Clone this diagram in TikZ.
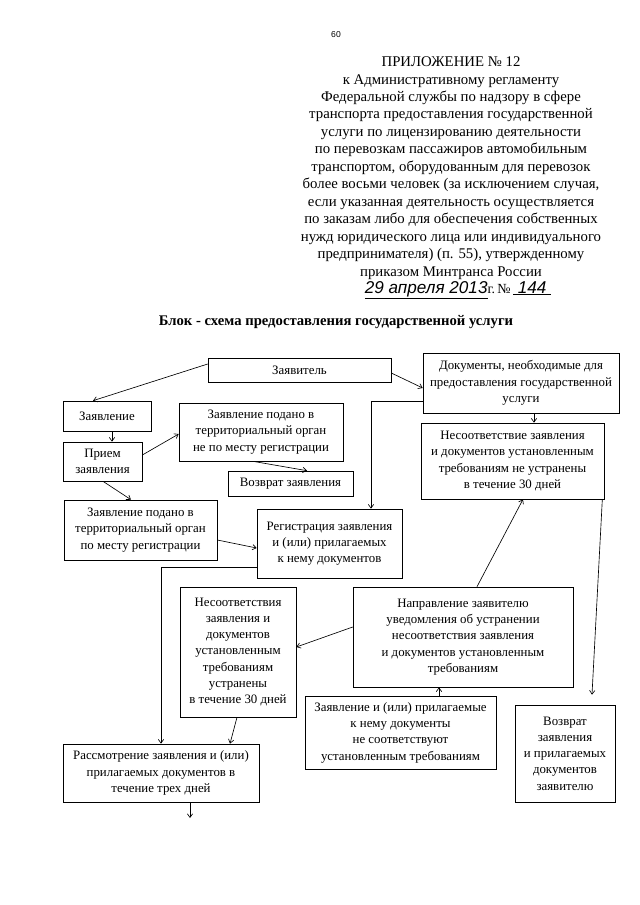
\documentclass[tikz,border=0pt]{standalone}
\usepackage{fontspec}
\setmainfont{Liberation Serif}
\newfontfamily\pagefont{Liberation Sans}
\newfontfamily\handfont{Liberation Sans}
\usepackage{tikz}
\usetikzlibrary{arrows.meta, calc}
\newcommand{\px}{0.328125mm}

\begin{document}
\begin{tikzpicture}[x=0.328125mm, y=-0.328125mm, line width=0.6pt, >={Straight Barb[length=3.5pt,width=5pt]},
    blok/.style={draw, align=center, inner sep=1pt, font=\fontsize{12}{15.2}\selectfont},
    wh/.style 2 args={minimum width=#1*\px, minimum height=#2*\px}]
    \useasboundingbox (0,0) rectangle (640,905);

    % Header
    \node[font=\pagefont\fontsize{8}{9}\selectfont] (stranica) at (336,35) {60};
    \node[align=center, font=\fontsize{13.8}{16.3}\selectfont] (prilozhenie) at (451,168) {ПРИЛОЖЕНИЕ № 12\\к Административному регламенту\\Федеральной службы по надзору в сфере\\транспорта предоставления государственной\\услуги по лицензированию деятельности\\по перевозкам пассажиров автомобильным\\транспортом, оборудованным для перевозок\\более восьми человек (за исключением случая,\\если указанная деятельность осуществляется\\по заказам либо для обеспечения собственных\\нужд юридического лица или индивидуального\\предпринимателя) (п. 55), утвержденному\\приказом Минтранса России};
    \node[font=\fontsize{13}{15}\selectfont] (data) at (458,290) {{\handfont\itshape\fontsize{16}{18}\selectfont\underline{29 апреля 2013}}г.\,№\,{\handfont\itshape\fontsize{16}{18}\selectfont\underline{\ 144\ }}};
    \node[font=\bfseries\fontsize{13.7}{15}\selectfont] (zagolovok) at (336,322) {Блок - схема предоставления государственной услуги};

    % Blocks
    \node[blok, wh={183}{24}] (zayavitel) at (299.5,370) {Заявитель};
    \node[blok, wh={196}{60}] (dokumenty) at (521,383) {Документы, необходимые для\\предоставления государственной\\услуги};
    \node[blok, wh={88}{30}] (zayavlenie) at (107,416) {Заявление};
    \node[blok, wh={79}{39}] (priem) at (102.5,461.5) {Прием\\заявления};
    \node[blok, wh={164}{58}] (nepomestu) at (261,432) {Заявление подано в\\территориальный орган\\не по месту регистрации};
    \node[blok, wh={125}{25}] (vozvrat) at (290.5,483.5) {Возврат заявления};
    \node[blok, wh={153}{60}] (pomestu) at (140.5,530) {Заявление подано в\\территориальный орган\\по месту регистрации};
    \node[blok, wh={145}{69}] (registr) at (329.5,543.5) {Регистрация заявления\\и (или) прилагаемых\\к нему документов};
    \node[blok, wh={183}{76}] (nesootv) at (512.5,461) {Несоответствие заявления\\и документов установленным\\требованиям не устранены\\в течение 30 дней};
    \node[blok, wh={116}{130}] (ustraneny) at (238,652) {Несоответствия\\заявления и\\документов\\установленным\\требованиям\\устранены\\в течение 30 дней};
    \node[blok, wh={220}{100}] (napravl) at (463,637) {Направление заявителю\\уведомления об устранении\\несоответствия заявления\\и документов установленным\\требованиям};
    \node[blok, wh={191}{73}] (nesoottreb) at (400.5,732.5) {Заявление и (или) прилагаемые\\к нему документы\\не соответствуют\\установленным требованиям};
    \node[blok, wh={100}{97}] (vozvratzayav) at (565,753.5) {Возврат\\заявления\\и прилагаемых\\документов\\заявителю};
    \node[blok, wh={196}{58}] (rassmotr) at (161,773) {Рассмотрение заявления и (или)\\прилагаемых документов в\\течение трех дней};
    \coordinate (dalee) at (190,818);

    % Arrows
    \draw[->] ($(zayavitel.west)+(0,-6)$) -- ($(zayavlenie.north)+(-14,0)$);
    \draw[->] ($(zayavitel.east)+(0,3)$) -- ($(dokumenty.west)+(0,5)$);
    \draw[->] ($(zayavlenie.south)+(5,0)$) coordinate (t1) -- (t1 |- priem.north);
    \draw[->] ($(priem.east)+(0,-6.5)$) -- ($(nepomestu.west)+(0,2)$);
    \draw[->] ($(priem.south)+(0.5,0)$) -- ($(pomestu.north)+(-9.5,0)$);
    \draw[->] ($(nepomestu.south)+(-8,0)$) -- ($(vozvrat.north)+(16.5,0)$);
    \draw[->] ($(pomestu.east)+(0,10)$) -- ($(registr.west)+(0,4.5)$);
    \draw[->] ($(dokumenty.west)+(0,18)$) -| ($(registr.north)+(41.5,0)$);
    \draw[->] ($(dokumenty.south)+(13,0)$) coordinate (t2) -- (t2 |- nesootv.north);
    \draw[->] ($(napravl.north)+(14,0)$) -- ($(nesootv.south)+(10.5,0)$);
    \draw[->] ($(nesootv.south east)+(-2,0)$) -- ($(vozvratzayav.north)+(27,-10)$);
    \draw[->] ($(napravl.west)+(0,-10)$) -- ($(ustraneny.east)+(0,-5)$);
    \draw[->] ($(nesoottreb.north)+(38.5,0)$) coordinate (t3) -- (t3 |- napravl.south);
    \draw[->] ($(ustraneny.south)+(-1,0)$) -- ($(rassmotr.north)+(69,0)$);
    \draw[->] ($(registr.west)+(0,23.5)$) -| (rassmotr.north);
    \draw[->] ($(rassmotr.south)+(29,0)$) -- (dalee);
\end{tikzpicture}
\end{document}
